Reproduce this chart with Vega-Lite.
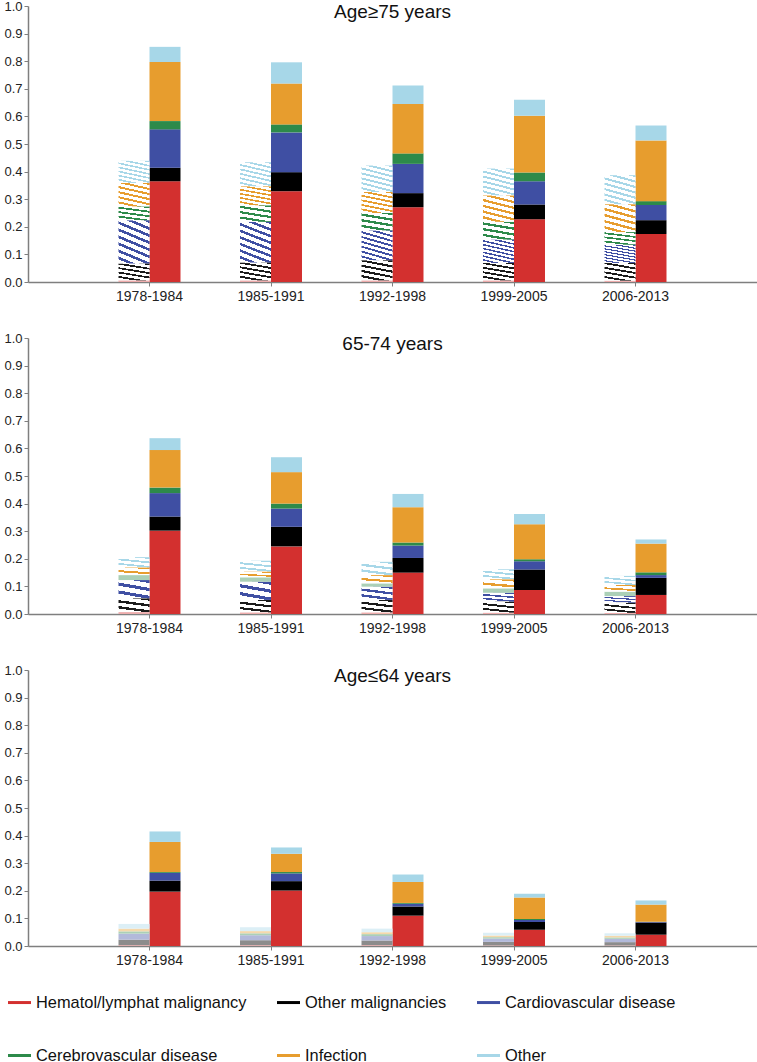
{
"$schema": "https://vega.github.io/schema/vega-lite/v6.json",
"padding": {"left": 3, "top": 0, "right": 0, "bottom": 0},
"background": "white",
"config": {
  "font": "Liberation Sans",
  "view": {"stroke": null},
  "concat": {"spacing": 29},
  "axis": {"grid": false, "domainColor": "#7f7f7f", "domainWidth": 1.5, "tickColor": "#7f7f7f", "tickSize": 4, "labelColor": "#222222", "title": null},
  "axisX": {"labelAngle": 0, "labelFontSize": 14, "labelPadding": 3},
  "axisY": {"labelFontSize": 13, "labelPadding": 2},
  "title": {"fontSize": 19, "fontWeight": "normal", "color": "#111111", "anchor": "middle", "offset": -22},
  "legend": {"orient": "none", "legendX": -20, "legendY": 985, "direction": "horizontal", "columns": 3, "columnPadding": 30, "rowPadding": 33, "padding": 0, "labelFontSize": 16.4, "labelColor": "#111111", "labelOffset": 5, "symbolType": "M-1,-0.13H1V0.13H-1Z", "symbolSize": 529, "symbolOpacity": 1, "symbolStrokeWidth": 0, "labelLimit": 400}
},
"datasets": {
"causes": [
{"cause":"Hematol/lymphat malignancy","rank":1},
{"cause":"Other malignancies","rank":2},
{"cause":"Cardiovascular disease","rank":3},
{"cause":"Cerebrovascular disease","rank":4},
{"cause":"Infection","rank":5},
{"cause":"Other","rank":6}
],
"d": [
{"age":"Age≥75 years","period":"1978-1984","series":"Observed","cause":"Hematol/lymphat malignancy","value":0.365},
{"age":"Age≥75 years","period":"1978-1984","series":"Observed","cause":"Other malignancies","value":0.049},
{"age":"Age≥75 years","period":"1978-1984","series":"Observed","cause":"Cardiovascular disease","value":0.139},
{"age":"Age≥75 years","period":"1978-1984","series":"Observed","cause":"Cerebrovascular disease","value":0.030},
{"age":"Age≥75 years","period":"1978-1984","series":"Observed","cause":"Infection","value":0.214},
{"age":"Age≥75 years","period":"1978-1984","series":"Observed","cause":"Other","value":0.055},
{"age":"Age≥75 years","period":"1985-1991","series":"Observed","cause":"Hematol/lymphat malignancy","value":0.329},
{"age":"Age≥75 years","period":"1985-1991","series":"Observed","cause":"Other malignancies","value":0.069},
{"age":"Age≥75 years","period":"1985-1991","series":"Observed","cause":"Cardiovascular disease","value":0.144},
{"age":"Age≥75 years","period":"1985-1991","series":"Observed","cause":"Cerebrovascular disease","value":0.029},
{"age":"Age≥75 years","period":"1985-1991","series":"Observed","cause":"Infection","value":0.148},
{"age":"Age≥75 years","period":"1985-1991","series":"Observed","cause":"Other","value":0.077},
{"age":"Age≥75 years","period":"1992-1998","series":"Observed","cause":"Hematol/lymphat malignancy","value":0.271},
{"age":"Age≥75 years","period":"1992-1998","series":"Observed","cause":"Other malignancies","value":0.051},
{"age":"Age≥75 years","period":"1992-1998","series":"Observed","cause":"Cardiovascular disease","value":0.106},
{"age":"Age≥75 years","period":"1992-1998","series":"Observed","cause":"Cerebrovascular disease","value":0.038},
{"age":"Age≥75 years","period":"1992-1998","series":"Observed","cause":"Infection","value":0.179},
{"age":"Age≥75 years","period":"1992-1998","series":"Observed","cause":"Other","value":0.067},
{"age":"Age≥75 years","period":"1999-2005","series":"Observed","cause":"Hematol/lymphat malignancy","value":0.227},
{"age":"Age≥75 years","period":"1999-2005","series":"Observed","cause":"Other malignancies","value":0.054},
{"age":"Age≥75 years","period":"1999-2005","series":"Observed","cause":"Cardiovascular disease","value":0.084},
{"age":"Age≥75 years","period":"1999-2005","series":"Observed","cause":"Cerebrovascular disease","value":0.032},
{"age":"Age≥75 years","period":"1999-2005","series":"Observed","cause":"Infection","value":0.205},
{"age":"Age≥75 years","period":"1999-2005","series":"Observed","cause":"Other","value":0.058},
{"age":"Age≥75 years","period":"2006-2013","series":"Observed","cause":"Hematol/lymphat malignancy","value":0.174},
{"age":"Age≥75 years","period":"2006-2013","series":"Observed","cause":"Other malignancies","value":0.050},
{"age":"Age≥75 years","period":"2006-2013","series":"Observed","cause":"Cardiovascular disease","value":0.055},
{"age":"Age≥75 years","period":"2006-2013","series":"Observed","cause":"Cerebrovascular disease","value":0.014},
{"age":"Age≥75 years","period":"2006-2013","series":"Observed","cause":"Infection","value":0.220},
{"age":"Age≥75 years","period":"2006-2013","series":"Observed","cause":"Other","value":0.054},
{"age":"Age≥75 years","period":"1978-1984","series":"Expected","cause":"Hematol/lymphat malignancy","value":0.006},
{"age":"Age≥75 years","period":"1978-1984","series":"Expected","cause":"Other malignancies","value":0.061},
{"age":"Age≥75 years","period":"1978-1984","series":"Expected","cause":"Cardiovascular disease","value":0.157},
{"age":"Age≥75 years","period":"1978-1984","series":"Expected","cause":"Cerebrovascular disease","value":0.050},
{"age":"Age≥75 years","period":"1978-1984","series":"Expected","cause":"Infection","value":0.085},
{"age":"Age≥75 years","period":"1978-1984","series":"Expected","cause":"Other","value":0.080},
{"age":"Age≥75 years","period":"1985-1991","series":"Expected","cause":"Hematol/lymphat malignancy","value":0.006},
{"age":"Age≥75 years","period":"1985-1991","series":"Expected","cause":"Other malignancies","value":0.065},
{"age":"Age≥75 years","period":"1985-1991","series":"Expected","cause":"Cardiovascular disease","value":0.147},
{"age":"Age≥75 years","period":"1985-1991","series":"Expected","cause":"Cerebrovascular disease","value":0.060},
{"age":"Age≥75 years","period":"1985-1991","series":"Expected","cause":"Infection","value":0.069},
{"age":"Age≥75 years","period":"1985-1991","series":"Expected","cause":"Other","value":0.087},
{"age":"Age≥75 years","period":"1992-1998","series":"Expected","cause":"Hematol/lymphat malignancy","value":0.006},
{"age":"Age≥75 years","period":"1992-1998","series":"Expected","cause":"Other malignancies","value":0.073},
{"age":"Age≥75 years","period":"1992-1998","series":"Expected","cause":"Cardiovascular disease","value":0.108},
{"age":"Age≥75 years","period":"1992-1998","series":"Expected","cause":"Cerebrovascular disease","value":0.063},
{"age":"Age≥75 years","period":"1992-1998","series":"Expected","cause":"Infection","value":0.076},
{"age":"Age≥75 years","period":"1992-1998","series":"Expected","cause":"Other","value":0.096},
{"age":"Age≥75 years","period":"1999-2005","series":"Expected","cause":"Hematol/lymphat malignancy","value":0.006},
{"age":"Age≥75 years","period":"1999-2005","series":"Expected","cause":"Other malignancies","value":0.063},
{"age":"Age≥75 years","period":"1999-2005","series":"Expected","cause":"Cardiovascular disease","value":0.085},
{"age":"Age≥75 years","period":"1999-2005","series":"Expected","cause":"Cerebrovascular disease","value":0.064},
{"age":"Age≥75 years","period":"1999-2005","series":"Expected","cause":"Infection","value":0.096},
{"age":"Age≥75 years","period":"1999-2005","series":"Expected","cause":"Other","value":0.097},
{"age":"Age≥75 years","period":"2006-2013","series":"Expected","cause":"Hematol/lymphat malignancy","value":0.005},
{"age":"Age≥75 years","period":"2006-2013","series":"Expected","cause":"Other malignancies","value":0.064},
{"age":"Age≥75 years","period":"2006-2013","series":"Expected","cause":"Cardiovascular disease","value":0.066},
{"age":"Age≥75 years","period":"2006-2013","series":"Expected","cause":"Cerebrovascular disease","value":0.046},
{"age":"Age≥75 years","period":"2006-2013","series":"Expected","cause":"Infection","value":0.101},
{"age":"Age≥75 years","period":"2006-2013","series":"Expected","cause":"Other","value":0.105},
{"age":"65-74 years","period":"1978-1984","series":"Observed","cause":"Hematol/lymphat malignancy","value":0.302},
{"age":"65-74 years","period":"1978-1984","series":"Observed","cause":"Other malignancies","value":0.051},
{"age":"65-74 years","period":"1978-1984","series":"Observed","cause":"Cardiovascular disease","value":0.085},
{"age":"65-74 years","period":"1978-1984","series":"Observed","cause":"Cerebrovascular disease","value":0.020},
{"age":"65-74 years","period":"1978-1984","series":"Observed","cause":"Infection","value":0.136},
{"age":"65-74 years","period":"1978-1984","series":"Observed","cause":"Other","value":0.043},
{"age":"65-74 years","period":"1985-1991","series":"Observed","cause":"Hematol/lymphat malignancy","value":0.245},
{"age":"65-74 years","period":"1985-1991","series":"Observed","cause":"Other malignancies","value":0.071},
{"age":"65-74 years","period":"1985-1991","series":"Observed","cause":"Cardiovascular disease","value":0.066},
{"age":"65-74 years","period":"1985-1991","series":"Observed","cause":"Cerebrovascular disease","value":0.018},
{"age":"65-74 years","period":"1985-1991","series":"Observed","cause":"Infection","value":0.114},
{"age":"65-74 years","period":"1985-1991","series":"Observed","cause":"Other","value":0.054},
{"age":"65-74 years","period":"1992-1998","series":"Observed","cause":"Hematol/lymphat malignancy","value":0.150},
{"age":"65-74 years","period":"1992-1998","series":"Observed","cause":"Other malignancies","value":0.053},
{"age":"65-74 years","period":"1992-1998","series":"Observed","cause":"Cardiovascular disease","value":0.045},
{"age":"65-74 years","period":"1992-1998","series":"Observed","cause":"Cerebrovascular disease","value":0.011},
{"age":"65-74 years","period":"1992-1998","series":"Observed","cause":"Infection","value":0.128},
{"age":"65-74 years","period":"1992-1998","series":"Observed","cause":"Other","value":0.048},
{"age":"65-74 years","period":"1999-2005","series":"Observed","cause":"Hematol/lymphat malignancy","value":0.087},
{"age":"65-74 years","period":"1999-2005","series":"Observed","cause":"Other malignancies","value":0.074},
{"age":"65-74 years","period":"1999-2005","series":"Observed","cause":"Cardiovascular disease","value":0.030},
{"age":"65-74 years","period":"1999-2005","series":"Observed","cause":"Cerebrovascular disease","value":0.007},
{"age":"65-74 years","period":"1999-2005","series":"Observed","cause":"Infection","value":0.127},
{"age":"65-74 years","period":"1999-2005","series":"Observed","cause":"Other","value":0.037},
{"age":"65-74 years","period":"2006-2013","series":"Observed","cause":"Hematol/lymphat malignancy","value":0.069},
{"age":"65-74 years","period":"2006-2013","series":"Observed","cause":"Other malignancies","value":0.062},
{"age":"65-74 years","period":"2006-2013","series":"Observed","cause":"Cardiovascular disease","value":0.010},
{"age":"65-74 years","period":"2006-2013","series":"Observed","cause":"Cerebrovascular disease","value":0.010},
{"age":"65-74 years","period":"2006-2013","series":"Observed","cause":"Infection","value":0.104},
{"age":"65-74 years","period":"2006-2013","series":"Observed","cause":"Other","value":0.015},
{"age":"65-74 years","period":"1978-1984","series":"Expected","cause":"Hematol/lymphat malignancy","value":0.007},
{"age":"65-74 years","period":"1978-1984","series":"Expected","cause":"Other malignancies","value":0.050},
{"age":"65-74 years","period":"1978-1984","series":"Expected","cause":"Cardiovascular disease","value":0.066},
{"age":"65-74 years","period":"1978-1984","series":"Expected","cause":"Cerebrovascular disease","value":0.018},
{"age":"65-74 years","period":"1978-1984","series":"Expected","cause":"Infection","value":0.028},
{"age":"65-74 years","period":"1978-1984","series":"Expected","cause":"Other","value":0.037},
{"age":"65-74 years","period":"1985-1991","series":"Expected","cause":"Hematol/lymphat malignancy","value":0.006},
{"age":"65-74 years","period":"1985-1991","series":"Expected","cause":"Other malignancies","value":0.045},
{"age":"65-74 years","period":"1985-1991","series":"Expected","cause":"Cardiovascular disease","value":0.066},
{"age":"65-74 years","period":"1985-1991","series":"Expected","cause":"Cerebrovascular disease","value":0.016},
{"age":"65-74 years","period":"1985-1991","series":"Expected","cause":"Infection","value":0.021},
{"age":"65-74 years","period":"1985-1991","series":"Expected","cause":"Other","value":0.039},
{"age":"65-74 years","period":"1992-1998","series":"Expected","cause":"Hematol/lymphat malignancy","value":0.006},
{"age":"65-74 years","period":"1992-1998","series":"Expected","cause":"Other malignancies","value":0.045},
{"age":"65-74 years","period":"1992-1998","series":"Expected","cause":"Cardiovascular disease","value":0.048},
{"age":"65-74 years","period":"1992-1998","series":"Expected","cause":"Cerebrovascular disease","value":0.012},
{"age":"65-74 years","period":"1992-1998","series":"Expected","cause":"Infection","value":0.030},
{"age":"65-74 years","period":"1992-1998","series":"Expected","cause":"Other","value":0.048},
{"age":"65-74 years","period":"1999-2005","series":"Expected","cause":"Hematol/lymphat malignancy","value":0.005},
{"age":"65-74 years","period":"1999-2005","series":"Expected","cause":"Other malignancies","value":0.040},
{"age":"65-74 years","period":"1999-2005","series":"Expected","cause":"Cardiovascular disease","value":0.032},
{"age":"65-74 years","period":"1999-2005","series":"Expected","cause":"Cerebrovascular disease","value":0.016},
{"age":"65-74 years","period":"1999-2005","series":"Expected","cause":"Infection","value":0.033},
{"age":"65-74 years","period":"1999-2005","series":"Expected","cause":"Other","value":0.036},
{"age":"65-74 years","period":"2006-2013","series":"Expected","cause":"Hematol/lymphat malignancy","value":0.004},
{"age":"65-74 years","period":"2006-2013","series":"Expected","cause":"Other malignancies","value":0.037},
{"age":"65-74 years","period":"2006-2013","series":"Expected","cause":"Cardiovascular disease","value":0.024},
{"age":"65-74 years","period":"2006-2013","series":"Expected","cause":"Cerebrovascular disease","value":0.016},
{"age":"65-74 years","period":"2006-2013","series":"Expected","cause":"Infection","value":0.024},
{"age":"65-74 years","period":"2006-2013","series":"Expected","cause":"Other","value":0.033},
{"age":"Age≤64 years","period":"1978-1984","series":"Observed","cause":"Hematol/lymphat malignancy","value":0.197},
{"age":"Age≤64 years","period":"1978-1984","series":"Observed","cause":"Other malignancies","value":0.040},
{"age":"Age≤64 years","period":"1978-1984","series":"Observed","cause":"Cardiovascular disease","value":0.028},
{"age":"Age≤64 years","period":"1978-1984","series":"Observed","cause":"Cerebrovascular disease","value":0.003},
{"age":"Age≤64 years","period":"1978-1984","series":"Observed","cause":"Infection","value":0.109},
{"age":"Age≤64 years","period":"1978-1984","series":"Observed","cause":"Other","value":0.038},
{"age":"Age≤64 years","period":"1985-1991","series":"Observed","cause":"Hematol/lymphat malignancy","value":0.201},
{"age":"Age≤64 years","period":"1985-1991","series":"Observed","cause":"Other malignancies","value":0.034},
{"age":"Age≤64 years","period":"1985-1991","series":"Observed","cause":"Cardiovascular disease","value":0.028},
{"age":"Age≤64 years","period":"1985-1991","series":"Observed","cause":"Cerebrovascular disease","value":0.005},
{"age":"Age≤64 years","period":"1985-1991","series":"Observed","cause":"Infection","value":0.066},
{"age":"Age≤64 years","period":"1985-1991","series":"Observed","cause":"Other","value":0.023},
{"age":"Age≤64 years","period":"1992-1998","series":"Observed","cause":"Hematol/lymphat malignancy","value":0.110},
{"age":"Age≤64 years","period":"1992-1998","series":"Observed","cause":"Other malignancies","value":0.033},
{"age":"Age≤64 years","period":"1992-1998","series":"Observed","cause":"Cardiovascular disease","value":0.010},
{"age":"Age≤64 years","period":"1992-1998","series":"Observed","cause":"Cerebrovascular disease","value":0.003},
{"age":"Age≤64 years","period":"1992-1998","series":"Observed","cause":"Infection","value":0.076},
{"age":"Age≤64 years","period":"1992-1998","series":"Observed","cause":"Other","value":0.027},
{"age":"Age≤64 years","period":"1999-2005","series":"Observed","cause":"Hematol/lymphat malignancy","value":0.059},
{"age":"Age≤64 years","period":"1999-2005","series":"Observed","cause":"Other malignancies","value":0.028},
{"age":"Age≤64 years","period":"1999-2005","series":"Observed","cause":"Cardiovascular disease","value":0.007},
{"age":"Age≤64 years","period":"1999-2005","series":"Observed","cause":"Cerebrovascular disease","value":0.004},
{"age":"Age≤64 years","period":"1999-2005","series":"Observed","cause":"Infection","value":0.078},
{"age":"Age≤64 years","period":"1999-2005","series":"Observed","cause":"Other","value":0.013},
{"age":"Age≤64 years","period":"2006-2013","series":"Observed","cause":"Hematol/lymphat malignancy","value":0.041},
{"age":"Age≤64 years","period":"2006-2013","series":"Observed","cause":"Other malignancies","value":0.044},
{"age":"Age≤64 years","period":"2006-2013","series":"Observed","cause":"Cardiovascular disease","value":0.002},
{"age":"Age≤64 years","period":"2006-2013","series":"Observed","cause":"Cerebrovascular disease","value":0.001},
{"age":"Age≤64 years","period":"2006-2013","series":"Observed","cause":"Infection","value":0.062},
{"age":"Age≤64 years","period":"2006-2013","series":"Observed","cause":"Other","value":0.015},
{"age":"Age≤64 years","period":"1978-1984","series":"Expected","cause":"Hematol/lymphat malignancy","value":0.003},
{"age":"Age≤64 years","period":"1978-1984","series":"Expected","cause":"Other malignancies","value":0.020},
{"age":"Age≤64 years","period":"1978-1984","series":"Expected","cause":"Cardiovascular disease","value":0.022},
{"age":"Age≤64 years","period":"1978-1984","series":"Expected","cause":"Cerebrovascular disease","value":0.008},
{"age":"Age≤64 years","period":"1978-1984","series":"Expected","cause":"Infection","value":0.010},
{"age":"Age≤64 years","period":"1978-1984","series":"Expected","cause":"Other","value":0.017},
{"age":"Age≤64 years","period":"1985-1991","series":"Expected","cause":"Hematol/lymphat malignancy","value":0.003},
{"age":"Age≤64 years","period":"1985-1991","series":"Expected","cause":"Other malignancies","value":0.018},
{"age":"Age≤64 years","period":"1985-1991","series":"Expected","cause":"Cardiovascular disease","value":0.018},
{"age":"Age≤64 years","period":"1985-1991","series":"Expected","cause":"Cerebrovascular disease","value":0.007},
{"age":"Age≤64 years","period":"1985-1991","series":"Expected","cause":"Infection","value":0.008},
{"age":"Age≤64 years","period":"1985-1991","series":"Expected","cause":"Other","value":0.014},
{"age":"Age≤64 years","period":"1992-1998","series":"Expected","cause":"Hematol/lymphat malignancy","value":0.003},
{"age":"Age≤64 years","period":"1992-1998","series":"Expected","cause":"Other malignancies","value":0.017},
{"age":"Age≤64 years","period":"1992-1998","series":"Expected","cause":"Cardiovascular disease","value":0.016},
{"age":"Age≤64 years","period":"1992-1998","series":"Expected","cause":"Cerebrovascular disease","value":0.007},
{"age":"Age≤64 years","period":"1992-1998","series":"Expected","cause":"Infection","value":0.007},
{"age":"Age≤64 years","period":"1992-1998","series":"Expected","cause":"Other","value":0.013},
{"age":"Age≤64 years","period":"1999-2005","series":"Expected","cause":"Hematol/lymphat malignancy","value":0.002},
{"age":"Age≤64 years","period":"1999-2005","series":"Expected","cause":"Other malignancies","value":0.013},
{"age":"Age≤64 years","period":"1999-2005","series":"Expected","cause":"Cardiovascular disease","value":0.012},
{"age":"Age≤64 years","period":"1999-2005","series":"Expected","cause":"Cerebrovascular disease","value":0.005},
{"age":"Age≤64 years","period":"1999-2005","series":"Expected","cause":"Infection","value":0.006},
{"age":"Age≤64 years","period":"1999-2005","series":"Expected","cause":"Other","value":0.010},
{"age":"Age≤64 years","period":"2006-2013","series":"Expected","cause":"Hematol/lymphat malignancy","value":0.002},
{"age":"Age≤64 years","period":"2006-2013","series":"Expected","cause":"Other malignancies","value":0.012},
{"age":"Age≤64 years","period":"2006-2013","series":"Expected","cause":"Cardiovascular disease","value":0.012},
{"age":"Age≤64 years","period":"2006-2013","series":"Expected","cause":"Cerebrovascular disease","value":0.005},
{"age":"Age≤64 years","period":"2006-2013","series":"Expected","cause":"Infection","value":0.006},
{"age":"Age≤64 years","period":"2006-2013","series":"Expected","cause":"Other","value":0.009}
]},
"vconcat": [
{
  "width": 729, "height": 276,
  "title": {"text": "Age≥75 years"},
  "data": {"name": "d"},
  "transform": [{"filter": "datum.age === 'Age≥75 years'"}, {"lookup": "cause", "from": {"data": {"name": "causes"}, "key": "cause", "fields": ["rank"]}}],
  "encoding": {
    "x": {"field": "period", "type": "nominal", "sort": null, "scale": {"paddingInner": 0, "paddingOuter": 0.5}},
    "xOffset": {"field": "series", "type": "nominal", "scale": {"domain": ["Expected", "Observed"], "paddingInner": 0, "paddingOuter": 0.96}},
    "y": {"field": "value", "type": "quantitative", "stack": "zero", "scale": {"domain": [0, 1], "nice": false}, "axis": {"values": [0,0.1,0.2,0.3,0.4,0.5,0.6,0.7,0.8,0.9,1.0], "format": ".1f", "labelOverlap": false}}
  },
  "layer": [
    {"transform": [{"filter": "datum.series === 'Observed'"}], "mark": {"type": "bar"},
     "encoding": {
      "color": {"field": "cause", "type": "nominal", "legend": {"title": null},
        "scale": {"domain": ["Hematol/lymphat malignancy", "Other malignancies", "Cardiovascular disease", "Cerebrovascular disease", "Infection", "Other"], "range": ["#d3302f", "#000000", "#3f4fa3", "#2d8a4a", "#e79d2e", "#a7d7e8"]}},
      "order": {"field": "rank", "type": "quantitative"}}},
    {"transform": [{"filter": "datum.series === 'Expected'"}], "mark": {"type": "bar"},
     "encoding": {
      "detail": {"field": "cause", "type": "nominal"},
      "order": {"field": "rank", "type": "quantitative"},
      "fill": {"condition": [
        {"test": "datum.cause === 'Hematol/lymphat malignancy'", "value": "#edacac"},
        {"test": "datum.cause === 'Other malignancies'", "value": {"gradient": "linear", "x1": 1, "y1": 0, "x2": 0.642, "y2": 1.193, "stops": [
          {"offset": 0, "color": "#1a1a1a"}, {"offset": 0.08, "color": "#1a1a1a"}, {"offset": 0.08, "color": "#ffffff"}, {"offset": 0.2, "color": "#ffffff"},
          {"offset": 0.2, "color": "#1a1a1a"}, {"offset": 0.28, "color": "#1a1a1a"}, {"offset": 0.28, "color": "#ffffff"}, {"offset": 0.4, "color": "#ffffff"},
          {"offset": 0.4, "color": "#1a1a1a"}, {"offset": 0.48, "color": "#1a1a1a"}, {"offset": 0.48, "color": "#ffffff"}, {"offset": 0.6, "color": "#ffffff"},
          {"offset": 0.6, "color": "#1a1a1a"}, {"offset": 0.68, "color": "#1a1a1a"}, {"offset": 0.68, "color": "#ffffff"}, {"offset": 0.8, "color": "#ffffff"},
          {"offset": 0.8, "color": "#1a1a1a"}, {"offset": 0.88, "color": "#1a1a1a"}, {"offset": 0.88, "color": "#ffffff"}, {"offset": 1, "color": "#ffffff"}]}},
        {"test": "datum.cause === 'Cardiovascular disease'", "value": {"gradient": "linear", "x1": 1, "y1": 0, "x2": 0.642, "y2": 1.193, "stops": [
          {"offset": 0, "color": "#3f4fa3"}, {"offset": 0.05, "color": "#3f4fa3"}, {"offset": 0.05, "color": "#ffffff"}, {"offset": 0.125, "color": "#ffffff"},
          {"offset": 0.125, "color": "#3f4fa3"}, {"offset": 0.175, "color": "#3f4fa3"}, {"offset": 0.175, "color": "#ffffff"}, {"offset": 0.25, "color": "#ffffff"},
          {"offset": 0.25, "color": "#3f4fa3"}, {"offset": 0.3, "color": "#3f4fa3"}, {"offset": 0.3, "color": "#ffffff"}, {"offset": 0.375, "color": "#ffffff"},
          {"offset": 0.375, "color": "#3f4fa3"}, {"offset": 0.425, "color": "#3f4fa3"}, {"offset": 0.425, "color": "#ffffff"}, {"offset": 0.5, "color": "#ffffff"},
          {"offset": 0.5, "color": "#3f4fa3"}, {"offset": 0.55, "color": "#3f4fa3"}, {"offset": 0.55, "color": "#ffffff"}, {"offset": 0.625, "color": "#ffffff"},
          {"offset": 0.625, "color": "#3f4fa3"}, {"offset": 0.675, "color": "#3f4fa3"}, {"offset": 0.675, "color": "#ffffff"}, {"offset": 0.75, "color": "#ffffff"},
          {"offset": 0.75, "color": "#3f4fa3"}, {"offset": 0.8, "color": "#3f4fa3"}, {"offset": 0.8, "color": "#ffffff"}, {"offset": 0.875, "color": "#ffffff"},
          {"offset": 0.875, "color": "#3f4fa3"}, {"offset": 0.925, "color": "#3f4fa3"}, {"offset": 0.925, "color": "#ffffff"}, {"offset": 1, "color": "#ffffff"}]}},
        {"test": "datum.cause === 'Cerebrovascular disease'", "value": {"gradient": "linear", "x1": 1, "y1": 0, "x2": 0.642, "y2": 1.193, "stops": [
          {"offset": 0, "color": "#2d8a4a"}, {"offset": 0.1, "color": "#2d8a4a"}, {"offset": 0.1, "color": "#ffffff"}, {"offset": 0.25, "color": "#ffffff"},
          {"offset": 0.25, "color": "#2d8a4a"}, {"offset": 0.35, "color": "#2d8a4a"}, {"offset": 0.35, "color": "#ffffff"}, {"offset": 0.5, "color": "#ffffff"},
          {"offset": 0.5, "color": "#2d8a4a"}, {"offset": 0.6, "color": "#2d8a4a"}, {"offset": 0.6, "color": "#ffffff"}, {"offset": 0.75, "color": "#ffffff"},
          {"offset": 0.75, "color": "#2d8a4a"}, {"offset": 0.85, "color": "#2d8a4a"}, {"offset": 0.85, "color": "#ffffff"}, {"offset": 1, "color": "#ffffff"}]}},
        {"test": "datum.cause === 'Infection'", "value": {"gradient": "linear", "x1": 1, "y1": 0, "x2": 0.642, "y2": 1.193, "stops": [
          {"offset": 0, "color": "#e79d2e"}, {"offset": 0.067, "color": "#e79d2e"}, {"offset": 0.067, "color": "#ffffff"}, {"offset": 0.167, "color": "#ffffff"},
          {"offset": 0.167, "color": "#e79d2e"}, {"offset": 0.233, "color": "#e79d2e"}, {"offset": 0.233, "color": "#ffffff"}, {"offset": 0.333, "color": "#ffffff"},
          {"offset": 0.333, "color": "#e79d2e"}, {"offset": 0.4, "color": "#e79d2e"}, {"offset": 0.4, "color": "#ffffff"}, {"offset": 0.5, "color": "#ffffff"},
          {"offset": 0.5, "color": "#e79d2e"}, {"offset": 0.567, "color": "#e79d2e"}, {"offset": 0.567, "color": "#ffffff"}, {"offset": 0.667, "color": "#ffffff"},
          {"offset": 0.667, "color": "#e79d2e"}, {"offset": 0.733, "color": "#e79d2e"}, {"offset": 0.733, "color": "#ffffff"}, {"offset": 0.833, "color": "#ffffff"},
          {"offset": 0.833, "color": "#e79d2e"}, {"offset": 0.9, "color": "#e79d2e"}, {"offset": 0.9, "color": "#ffffff"}, {"offset": 1, "color": "#ffffff"}]}}
      ], "value": {"gradient": "linear", "x1": 1, "y1": 0, "x2": 0.642, "y2": 1.193, "stops": [
          {"offset": 0, "color": "#a7d7e8"}, {"offset": 0.057, "color": "#a7d7e8"}, {"offset": 0.057, "color": "#ffffff"}, {"offset": 0.143, "color": "#ffffff"},
          {"offset": 0.143, "color": "#a7d7e8"}, {"offset": 0.2, "color": "#a7d7e8"}, {"offset": 0.2, "color": "#ffffff"}, {"offset": 0.286, "color": "#ffffff"},
          {"offset": 0.286, "color": "#a7d7e8"}, {"offset": 0.343, "color": "#a7d7e8"}, {"offset": 0.343, "color": "#ffffff"}, {"offset": 0.429, "color": "#ffffff"},
          {"offset": 0.429, "color": "#a7d7e8"}, {"offset": 0.486, "color": "#a7d7e8"}, {"offset": 0.486, "color": "#ffffff"}, {"offset": 0.571, "color": "#ffffff"},
          {"offset": 0.571, "color": "#a7d7e8"}, {"offset": 0.629, "color": "#a7d7e8"}, {"offset": 0.629, "color": "#ffffff"}, {"offset": 0.714, "color": "#ffffff"},
          {"offset": 0.714, "color": "#a7d7e8"}, {"offset": 0.771, "color": "#a7d7e8"}, {"offset": 0.771, "color": "#ffffff"}, {"offset": 0.857, "color": "#ffffff"},
          {"offset": 0.857, "color": "#a7d7e8"}, {"offset": 0.914, "color": "#a7d7e8"}, {"offset": 0.914, "color": "#ffffff"}, {"offset": 1, "color": "#ffffff"}]}}}}
  ]
},
{
  "width": 729, "height": 276,
  "title": {"text": "65-74 years"},
  "data": {"name": "d"},
  "transform": [{"filter": "datum.age === '65-74 years'"}, {"lookup": "cause", "from": {"data": {"name": "causes"}, "key": "cause", "fields": ["rank"]}}],
  "encoding": {
    "x": {"field": "period", "type": "nominal", "sort": null, "scale": {"paddingInner": 0, "paddingOuter": 0.5}},
    "xOffset": {"field": "series", "type": "nominal", "scale": {"domain": ["Expected", "Observed"], "paddingInner": 0, "paddingOuter": 0.96}},
    "y": {"field": "value", "type": "quantitative", "stack": "zero", "scale": {"domain": [0, 1], "nice": false}, "axis": {"values": [0,0.1,0.2,0.3,0.4,0.5,0.6,0.7,0.8,0.9,1.0], "format": ".1f", "labelOverlap": false}}
  },
  "layer": [
    {"transform": [{"filter": "datum.series === 'Observed'"}], "mark": {"type": "bar"},
     "encoding": {
      "color": {"field": "cause", "type": "nominal", "legend": {"title": null}},
      "order": {"field": "rank", "type": "quantitative"}}},
    {"transform": [{"filter": "datum.series === 'Expected'"}], "mark": {"type": "bar"},
     "encoding": {
      "detail": {"field": "cause", "type": "nominal"},
      "order": {"field": "rank", "type": "quantitative"},
      "fill": {"condition": [
        {"test": "datum.cause === 'Hematol/lymphat malignancy'", "value": "#edacac"},
        {"test": "datum.cause === 'Other malignancies'", "value": {"gradient": "linear", "x1": 1, "y1": 0, "x2": 0.642, "y2": 1.193, "stops": [
          {"offset": 0, "color": "#1a1a1a"}, {"offset": 0.133, "color": "#1a1a1a"}, {"offset": 0.133, "color": "#ffffff"}, {"offset": 0.333, "color": "#ffffff"},
          {"offset": 0.333, "color": "#1a1a1a"}, {"offset": 0.467, "color": "#1a1a1a"}, {"offset": 0.467, "color": "#ffffff"}, {"offset": 0.667, "color": "#ffffff"},
          {"offset": 0.667, "color": "#1a1a1a"}, {"offset": 0.8, "color": "#1a1a1a"}, {"offset": 0.8, "color": "#ffffff"}, {"offset": 1, "color": "#ffffff"}]}},
        {"test": "datum.cause === 'Cardiovascular disease'", "value": {"gradient": "linear", "x1": 1, "y1": 0, "x2": 0.642, "y2": 1.193, "stops": [
          {"offset": 0, "color": "#3f4fa3"}, {"offset": 0.133, "color": "#3f4fa3"}, {"offset": 0.133, "color": "#ffffff"}, {"offset": 0.333, "color": "#ffffff"},
          {"offset": 0.333, "color": "#3f4fa3"}, {"offset": 0.467, "color": "#3f4fa3"}, {"offset": 0.467, "color": "#ffffff"}, {"offset": 0.667, "color": "#ffffff"},
          {"offset": 0.667, "color": "#3f4fa3"}, {"offset": 0.8, "color": "#3f4fa3"}, {"offset": 0.8, "color": "#ffffff"}, {"offset": 1, "color": "#ffffff"}]}},
        {"test": "datum.cause === 'Cerebrovascular disease'", "value": "#abd0b7"},
        {"test": "datum.cause === 'Infection'", "value": {"gradient": "linear", "x1": 1, "y1": 0, "x2": 0.642, "y2": 1.193, "stops": [
          {"offset": 0, "color": "#e79d2e"}, {"offset": 0.2, "color": "#e79d2e"}, {"offset": 0.2, "color": "#ffffff"}, {"offset": 0.5, "color": "#ffffff"},
          {"offset": 0.5, "color": "#e79d2e"}, {"offset": 0.7, "color": "#e79d2e"}, {"offset": 0.7, "color": "#ffffff"}, {"offset": 1, "color": "#ffffff"}]}}
      ], "value": {"gradient": "linear", "x1": 1, "y1": 0, "x2": 0.642, "y2": 1.193, "stops": [
          {"offset": 0, "color": "#a7d7e8"}, {"offset": 0.133, "color": "#a7d7e8"}, {"offset": 0.133, "color": "#ffffff"}, {"offset": 0.333, "color": "#ffffff"},
          {"offset": 0.333, "color": "#a7d7e8"}, {"offset": 0.467, "color": "#a7d7e8"}, {"offset": 0.467, "color": "#ffffff"}, {"offset": 0.667, "color": "#ffffff"},
          {"offset": 0.667, "color": "#a7d7e8"}, {"offset": 0.8, "color": "#a7d7e8"}, {"offset": 0.8, "color": "#ffffff"}, {"offset": 1, "color": "#ffffff"}]}}}}
  ]
},
{
  "width": 729, "height": 276,
  "title": {"text": "Age≤64 years"},
  "data": {"name": "d"},
  "transform": [{"filter": "datum.age === 'Age≤64 years'"}, {"lookup": "cause", "from": {"data": {"name": "causes"}, "key": "cause", "fields": ["rank"]}}],
  "encoding": {
    "x": {"field": "period", "type": "nominal", "sort": null, "scale": {"paddingInner": 0, "paddingOuter": 0.5}},
    "xOffset": {"field": "series", "type": "nominal", "scale": {"domain": ["Expected", "Observed"], "paddingInner": 0, "paddingOuter": 0.96}},
    "y": {"field": "value", "type": "quantitative", "stack": "zero", "scale": {"domain": [0, 1], "nice": false}, "axis": {"values": [0,0.1,0.2,0.3,0.4,0.5,0.6,0.7,0.8,0.9,1.0], "format": ".1f", "labelOverlap": false}}
  },
  "layer": [
    {"transform": [{"filter": "datum.series === 'Observed'"}], "mark": {"type": "bar"},
     "encoding": {
      "color": {"field": "cause", "type": "nominal", "legend": {"title": null}},
      "order": {"field": "rank", "type": "quantitative"}}},
    {"transform": [{"filter": "datum.series === 'Expected'"}], "mark": {"type": "bar"},
     "encoding": {
      "detail": {"field": "cause", "type": "nominal"},
      "order": {"field": "rank", "type": "quantitative"},
      "fill": {"condition": [
        {"test": "datum.cause === 'Hematol/lymphat malignancy'", "value": "#edacac"},
        {"test": "datum.cause === 'Other malignancies'", "value": "#8c8c8c"},
        {"test": "datum.cause === 'Cardiovascular disease'", "value": "#b2b9da"},
        {"test": "datum.cause === 'Cerebrovascular disease'", "value": "#abd0b7"},
        {"test": "datum.cause === 'Infection'", "value": "#f5d8ab"}
      ], "value": "#dceff6"}}}
  ]
}
]
}
